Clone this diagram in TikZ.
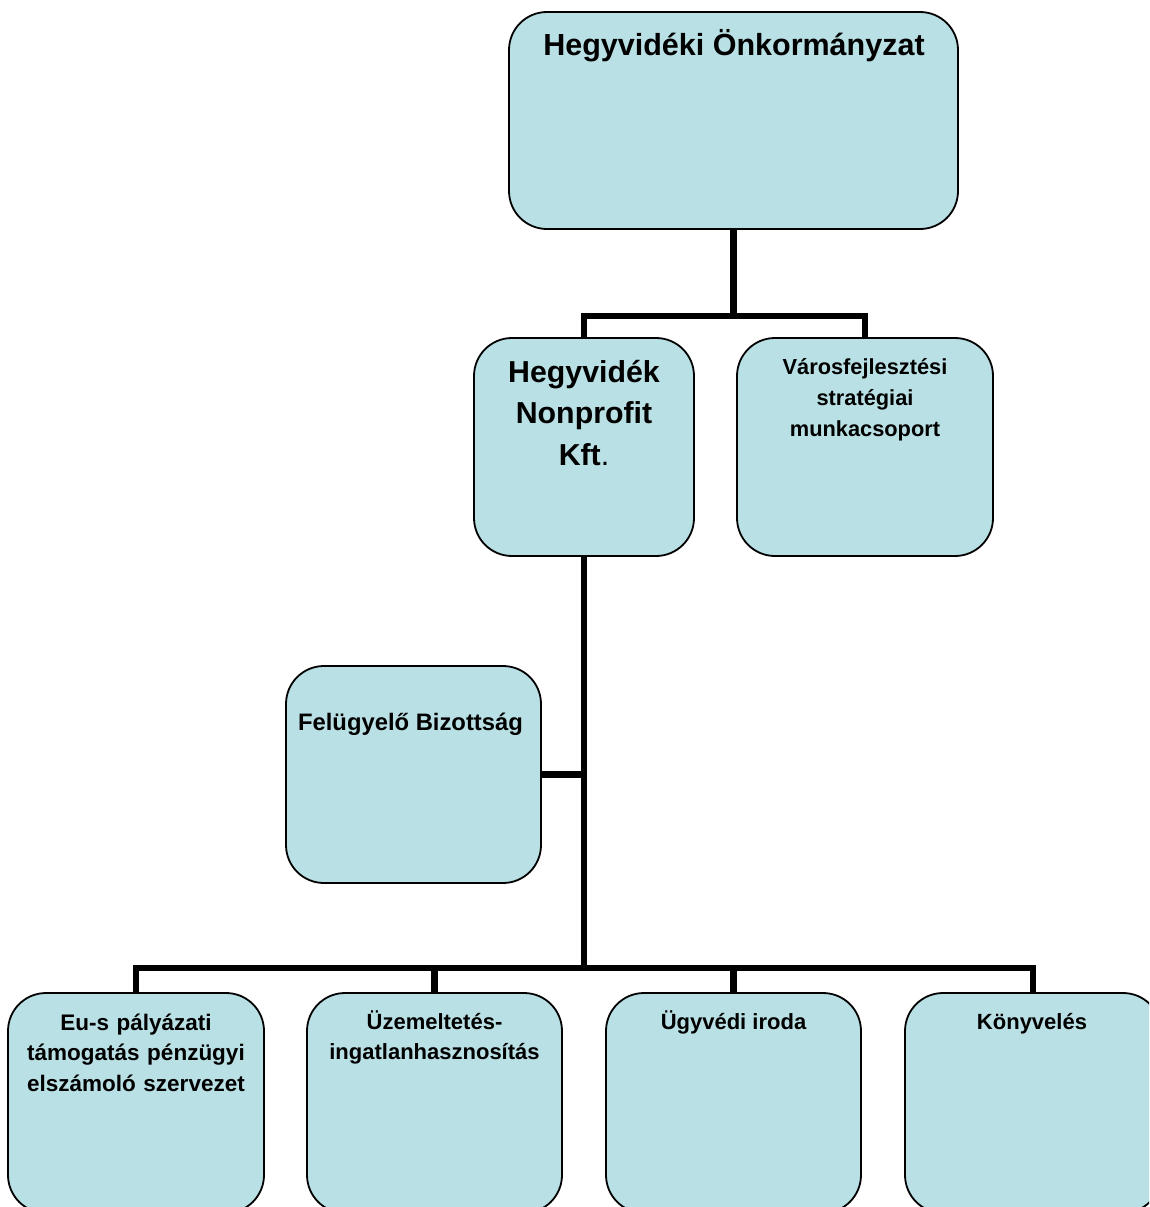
\documentclass[tikz,border=0pt]{standalone}
\usepackage{fontspec}
\setmainfont{Liberation Sans}
\definecolor{boxfill}{RGB}{185,224,228}
\begin{document}
\begin{tikzpicture}[x=1pt,y=-1pt,
  orgbox/.style={draw=black, line width=1.8pt, fill=boxfill, rounded corners=38pt, inner sep=0pt, rectangle},
  conn/.style={draw=black, line width=6.5pt},
  txt/.style={anchor=base, align=center, inner sep=0pt, font=\bfseries}]
\useasboundingbox (0,0) rectangle (1149,1207);
\clip (0,0) rectangle (1149,1207);
\coordinate (j1) at (733.5,316);
\coordinate (j2) at (584,968);
% boxes
\node[orgbox, minimum width=449pt, minimum height=217pt] (top) at (733.5,120.5) {};
\node[orgbox, minimum width=220pt, minimum height=218pt] (np) at (584,447) {};
\node[orgbox, minimum width=256pt, minimum height=218pt] (vf) at (865,447) {};
\node[orgbox, minimum width=255pt, minimum height=217pt] (fb) at (413.5,774.5) {};
\node[orgbox, minimum width=256pt, minimum height=220pt] (b1) at (136,1103) {};
\node[orgbox, minimum width=255pt, minimum height=220pt] (b2) at (434.5,1103) {};
\node[orgbox, minimum width=255pt, minimum height=220pt] (b3) at (733.5,1103) {};
\node[orgbox, minimum width=256pt, minimum height=220pt] (b4) at (1033,1103) {};
% connectors
\draw[conn] (top.south) -- (j1);
\draw[conn] (np.north) -- (np.north |- j1) -- (vf.north |- j1) -- (vf.north);
\draw[conn] (np.south) -- (j2);
\draw[conn] (b1.north) -- (b1.north |- j2) -- (b4.north |- j2) -- (b4.north);
\draw[conn] (b2.north) -- (b2.north |- j2);
\draw[conn] (b3.north) -- (b3.north |- j2);
\draw[conn] (fb.east) -- (fb.east -| np.south);
% texts
\node[txt, font=\bfseries\fontsize{30.5}{41}\selectfont] (ttop) at (734,56) {Hegyvidéki Önkormányzat};
\node[txt, text width=210pt, font=\bfseries\fontsize{30.3}{41.5}\selectfont] (tnp) at (584,382) {Hegyvidék\\Nonprofit\\Kft\textmd{.}};
\node[txt, text width=250pt, font=\bfseries\fontsize{21.8}{31}\selectfont] (tvf) at (865,374) {Városfejlesztési\\stratégiai\\munkacsoport};
\node[txt, font=\bfseries\fontsize{23.8}{30}\selectfont] (tfb) at (410.5,730) {Felügyelő Bizottság};
\node[txt, text width=250pt, font=\bfseries\fontsize{22.5}{30.5}\selectfont] (tb1) at (136,1030) {Eu-s pályázati\\támogatás pénzügyi\\elszámoló szervezet};
\node[txt, text width=250pt, font=\bfseries\fontsize{22}{30.5}\selectfont] (tb2) at (434.5,1029) {Üzemeltetés-\\ingatlanhasznosítás};
\node[txt, font=\bfseries\fontsize{22}{31}\selectfont] (tb3) at (733.5,1029) {Ügyvédi iroda};
\node[txt, font=\bfseries\fontsize{22}{31}\selectfont] (tb4) at (1032,1029) {Könyvelés};
\end{tikzpicture}
\end{document}
